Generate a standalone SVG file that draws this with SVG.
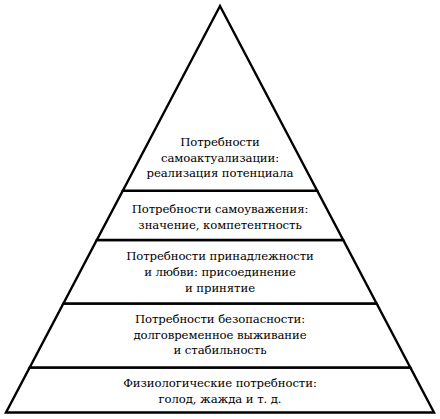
<svg xmlns="http://www.w3.org/2000/svg" width="440" height="419" viewBox="0 0 440 419">
<style>
.layer{fill:#fff;stroke:#000;stroke-width:2.4;stroke-linejoin:miter;stroke-miterlimit:10}
.t{font-family:"DejaVu Serif","Liberation Serif",serif;font-size:11.7px;letter-spacing:-0.1px;fill:#000;text-anchor:middle}
</style>
<rect width="440" height="419" fill="#fff"/>
<g id="physiological">
<polygon class="layer" points="29.7,367.5 410.3,367.5 434,412.5 6,412.5"/>
<text class="t" x="220" y="386.5">Физиологические потребности:</text>
<text class="t" x="220" y="402.5">голод, жажда и т. д.</text>
</g>
<g id="safety">
<polygon class="layer" points="63.4,303.5 376.6,303.5 410.3,367.5 29.7,367.5"/>
<text class="t" x="220" y="323">Потребности безопасности:</text>
<text class="t" x="220" y="338.5">долговременное выживание</text>
<text class="t" x="220" y="354">и стабильность</text>
</g>
<g id="belonging">
<polygon class="layer" points="96.8,240 343.2,240 376.6,303.5 63.4,303.5"/>
<text class="t" x="220" y="260">Потребности принадлежности</text>
<text class="t" x="220" y="276">и любви: присоединение</text>
<text class="t" x="220" y="292">и принятие</text>
</g>
<g id="esteem">
<polygon class="layer" points="122.8,190.7 317.2,190.7 343.2,240 96.8,240"/>
<text class="t" x="220" y="212.5">Потребности самоуважения:</text>
<text class="t" x="220" y="228.5">значение, компетентность</text>
</g>
<g id="self-actualization">
<polygon class="layer" points="220,6 317.2,190.7 122.8,190.7"/>
<text class="t" x="220" y="146">Потребности</text>
<text class="t" x="220" y="161.5">самоактуализации:</text>
<text class="t" x="220" y="177">реализация потенциала</text>
</g>
<g id="connectors"></g>
</svg>
